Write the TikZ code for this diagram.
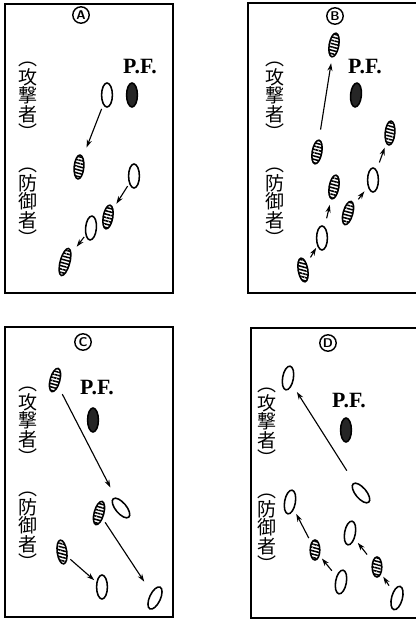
\documentclass[tikz,border=0pt]{standalone}
\usepackage{fontspec}
\newfontfamily\jpfont{Noto Sans CJK JP}
\newfontfamily\pffont{Liberation Serif}
\usetikzlibrary{shapes.geometric,arrows.meta,patterns.meta}

\begin{document}
\begin{tikzpicture}[x=0.025cm, y=-0.025cm,
    panel/.style={line width=1.2pt},
    player/.style={ellipse, draw, line width=1.1pt, inner sep=0pt,
      minimum width=0.27cm, minimum height=0.6cm},
    open/.style={player, fill=white},
    hatch/.style={player, minimum width=0.24cm,
      pattern={Lines[angle=-15, distance=2.3pt, line width=1.1pt]}},
    pf/.style={player, fill=black!85},
    arr/.style={-{Stealth[length=5.5pt, width=3.6pt]}, line width=0.8pt,
      shorten <=3pt, shorten >=4pt},
    tag/.style={circle, draw, line width=1pt, inner sep=0pt,
      minimum size=0.41cm, font=\sffamily\bfseries\small},
    pftext/.style={font=\pffont\bfseries\fontsize{15.5}{16}\selectfont},
    vtext/.style={align=center, inner sep=0pt,
      font=\jpfont\fontsize{13.5}{13.2}\selectfont}]
    \useasboundingbox (0,0) rectangle (416,621);

    % panel A
    \draw[panel] (5,4) rectangle (173,293);
    \node[tag] (tagA) at (81,15) {A};
    \node[pftext] (pfA) at (140,67) {P.F.};
    \node[vtext] (atkA) at (28,101) {︵\\攻\\撃\\者\\︶};
    \node[vtext] (defA) at (28,207) {︵\\防\\御\\者\\︶};
    \node[open] (a1) at (107,95) {};
    \node[pf] (a2) at (132,95) {};
    \node[hatch, rotate=-5] (a3) at (79,167) {};
    \node[open] (a4) at (134,176) {};
    \node[hatch, rotate=-10] (a5) at (108,217) {};
    \node[open, rotate=-5] (a6) at (91,228) {};
    \node[hatch, rotate=-15, minimum height=0.7cm] (a7) at (65,262) {};
    \draw[arr, shorten >=7pt] (a1) -- (a3);
    \draw[arr, shorten <=2pt] (a4) -- (a5);
    \draw[arr, shorten <=1.5pt, shorten >=6pt] (a6) -- (a7);

    % panel B
    \draw[panel] (248,3) rectangle (420,293);
    \node[tag] (tagB) at (335,16) {B};
    \node[pftext] (pfB) at (365,67) {P.F.};
    \node[vtext] (atkB) at (275,101) {︵\\攻\\撃\\者\\︶};
    \node[vtext] (defB) at (275,207) {︵\\防\\御\\者\\︶};
    \node[hatch, rotate=-10] (b1) at (334,45) {};
    \node[pf, rotate=-5] (b2) at (356,95) {};
    \node[hatch, rotate=-10] (b3) at (317,152) {};
    \node[hatch, rotate=-5] (b4) at (390,133) {};
    \node[open] (b5) at (373,180) {};
    \node[hatch, rotate=-15] (b6) at (348,213) {};
    \node[hatch, rotate=-10] (b7) at (334,187) {};
    \node[open] (b8) at (322,238) {};
    \node[hatch, rotate=10] (b9) at (303,270) {};
    \draw[arr, shorten <=7pt] (b3) -- (b1);
    \draw[arr, shorten <=5pt] (b6) -- (b5);
    \draw[arr, shorten <=5.5pt, shorten >=3pt] (b5) -- (b4);
    \draw[arr, shorten <=5pt, shorten >=1.5pt] (b9) -- (b8);
    \draw[arr, shorten <=6pt] (b8) -- (b7);

    % panel C
    \draw[panel] (5,327) rectangle (173,617);
    \node[tag] (tagC) at (83,342) {C};
    \node[pftext] (pfC) at (97,388) {P.F.};
    \node[vtext] (atkC) at (28,426) {︵\\攻\\撃\\者\\︶};
    \node[vtext] (defC) at (28,531) {︵\\防\\御\\者\\︶};
    \node[hatch, rotate=-15] (c1) at (55,380) {};
    \node[pf] (c2) at (93,420) {};
    \node[open, rotate=40] (c3) at (121,508) {};
    \node[hatch, rotate=-15] (c4) at (99,513) {};
    \node[hatch, rotate=8] (c5) at (62,552) {};
    \node[open] (c6) at (102,587) {};
    \node[open, rotate=-25] (c7) at (155,598) {};
    \draw[arr, shorten <=6pt, shorten >=8pt] (c1) -- (c3);
    \draw[arr, shorten >=9pt] (c4) -- (c7);
    \draw[arr, shorten <=2.5pt, shorten >=2pt] (c5) -- (c6);

    % panel D
    \draw[panel] (251,328) rectangle (420,618);
    \node[tag] (tagD) at (328,343) {D};
    \node[pftext] (pfD) at (349,401) {P.F.};
    \node[vtext] (atkD) at (267,427) {︵\\攻\\撃\\者\\︶};
    \node[vtext] (defD) at (267,533) {︵\\防\\御\\者\\︶};
    \node[open, rotate=-10] (d1) at (288,378) {};
    \node[pf] (d2) at (346,430) {};
    \node[open, rotate=40] (d3) at (361,493) {};
    \node[open, rotate=-10] (d4) at (290,502) {};
    \node[hatch, minimum height=0.5cm] (d5) at (315,550) {};
    \node[open, rotate=-10] (d6) at (341,582) {};
    \node[open, rotate=-10] (d7) at (350,533) {};
    \node[hatch, minimum height=0.5cm] (d8) at (377,567) {};
    \node[open, rotate=-15] (d9) at (397,598) {};
    \draw[arr, shorten <=10pt, shorten >=6pt] (d3) -- (d1);
    \draw[arr, shorten <=3.5pt, shorten >=3.5pt] (d5) -- (d4);
    \draw[arr, shorten <=5pt, shorten >=2.5pt] (d6) -- (d5);
    \draw[arr, shorten <=6pt, shorten >=3.5pt] (d8) -- (d7);
    \draw[arr, shorten <=5pt, shorten >=2.5pt] (d9) -- (d8);
\end{tikzpicture}
\end{document}
